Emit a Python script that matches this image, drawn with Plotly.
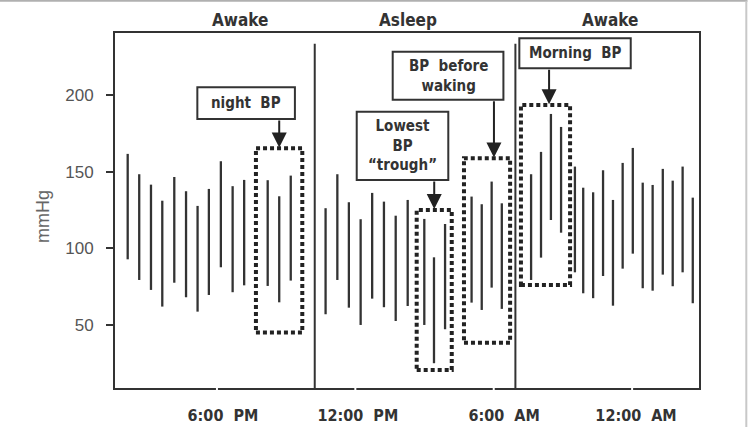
import plotly.graph_objects as go

# Reading times (hours on a continuous clock axis, 30-minute readings)
times = [14.13, 14.63, 15.14, 15.63, 16.15, 16.66, 17.16, 17.65, 18.17, 18.68, 19.18,
         20.20, 20.70, 21.20,
         22.71, 23.22, 23.72, 24.23, 24.73, 25.24, 25.75, 26.27, 26.99, 27.41, 27.89,
         29.04, 29.48, 29.91, 30.35,
         31.62, 32.05, 32.48, 32.92, 33.52, 33.88, 34.31, 34.74, 35.17, 35.59, 36.03,
         36.46, 36.89, 37.33, 37.76, 38.19, 38.63]
systolic = [161.8, 148.5, 141.7, 131.2, 146.7, 137.4, 127.8, 138.9, 157.0, 140.7, 144.8,
            144.6, 134.1, 147.6,
            126.3, 148.5, 130.2, 119.1, 136.3, 130.6, 121.4, 131.7, 119.3, 94.2, 116.0,
            133.9, 128.9, 143.7, 129.5,
            148.5, 163.1, 187.9, 179.4, 153.5, 139.7, 136.7, 151.1, 131.7, 155.9, 165.7,
            143.0, 141.5, 152.0, 144.3, 153.5, 133.2]
diastolic = [92.9, 79.4, 72.9, 62.0, 77.6, 68.1, 58.7, 69.6, 87.7, 71.4, 75.9,
             75.5, 64.8, 79.0,
             57.0, 79.4, 61.3, 50.0, 67.2, 61.6, 52.6, 62.4, 50.0, 25.0, 47.2,
             64.6, 59.8, 74.4, 60.5,
             79.4, 94.0, 118.6, 110.3, 84.4, 70.7, 67.5, 82.0, 62.6, 86.8, 96.6,
             74.0, 72.4, 82.9, 75.3, 84.4, 64.2]

x_notches = [18, 24, 30, 36]
x_tick_pos = [18.26, 24.11, 30.45, 36.17]
x_tick_labels = ["6:00  PM", "12:00  PM", "6:00  AM", "12:00  AM"]
y_ticks = [50, 100, 150, 200]

phase_labels = ["Awake", "Asleep", "Awake"]
phase_x = [19.0, 26.28, 35.04]
dividers = [22.24, 30.94]

# Highlight windows: (x0, x1, y0, y1)
windows = [
    (19.69, 21.70, 45.0, 165.5),
    (26.66, 28.18, 20.6, 125.2),
    (28.71, 30.71, 38.4, 159.0),
    (31.18, 33.31, 76.1, 193.8),
]
# Callout boxes: text, (x0, x1, y0, y1), arrow x
callouts = [
    ("night  BP", (17.15, 21.38, 184.6, 205.4), 20.70),
    ("Lowest<br>BP<br>“trough”", (24.06, 28.03, 144.8, 189.4), 27.42),
    ("BP  before<br>waking", (25.62, 30.42, 197.1, 228.6), 30.01),
    ("Morning  BP", (31.11, 35.94, 217.8, 237.4), 32.40),
]

DARK = "#333333"
COND = "Liberation Sans Narrow, DejaVu Sans Condensed, Roboto Condensed, Arial Narrow, sans-serif"

bx, by = [], []
for t, s, d in zip(times, systolic, diastolic):
    bx += [t, t, None]
    by += [d, s, None]

fig = go.Figure()
fig.add_trace(go.Scatter(x=bx, y=by, mode="lines",
                         line=dict(color=DARK, width=2.3), hoverinfo="skip",
                         showlegend=False))

shapes = []
annotations = []
for xd in dividers:
    shapes.append(dict(type="line", xref="x", yref="y", x0=xd, x1=xd, y0=8.8, y1=233.7,
                       line=dict(color=DARK, width=2)))
for (x0, x1, y0, y1) in windows:
    shapes.append(dict(type="rect", xref="x", yref="y", x0=x0, x1=x1, y0=y0, y1=y1,
                       line=dict(color="#222222", width=4, dash="4px,3px")))
for text, (x0, x1, y0, y1), ax in callouts:
    shapes.append(dict(type="rect", xref="x", yref="y", x0=x0, x1=x1, y0=y0, y1=y1,
                       line=dict(color=DARK, width=2), fillcolor="white", layer="above"))
    annotations.append(dict(x=(x0 + x1) / 2, y=(y0 + y1) / 2, xref="x", yref="y",
                            text=text, showarrow=False,
                            xanchor="center", yanchor="middle",
                            font=dict(family=COND, size=15, color=DARK, weight="bold")))
for (text, (x0, x1, y0, y1), ax), win in zip(callouts, windows):
    annotations.append(dict(x=ax, y=win[3] + 0.5, xref="x", yref="y",
                            ax=ax, ay=y0, axref="x", ayref="y", text="",
                            showarrow=True, arrowhead=2, arrowsize=1.5,
                            arrowwidth=2, arrowcolor="#222222", standoff=0))
for lbl, px in zip(phase_labels, phase_x):
    annotations.append(dict(x=px, y=1.037, xref="x", yref="paper", text=lbl,
                            showarrow=False, xanchor="center", yanchor="middle",
                            font=dict(family=COND, size=17, color=DARK, weight="bold")))
annotations.append(dict(x=-0.123, y=0.4825, xref="paper", yref="paper", text="mmHg",
                        textangle=-90, showarrow=False,
                        xanchor="center", yanchor="middle",
                        font=dict(family="Liberation Sans, Arial, sans-serif", size=18,
                                  color="#666666")))

# small white notches on the bottom axis line
for xn in x_notches:
    shapes.append(dict(type="line", xref="x", yref="paper", x0=xn, x1=xn,
                       y0=-0.006, y1=0.006, line=dict(color="white", width=2),
                       layer="above"))

# outer light frame (top and right)
shapes.append(dict(type="line", xref="paper", yref="paper", x0=-0.2, x1=1.083,
                   y0=1.091, y1=1.091, line=dict(color="#b0b0b0", width=2)))
shapes.append(dict(type="line", xref="paper", yref="paper", x0=1.081, x1=1.081,
                   y0=-0.2, y1=1.091, line=dict(color="#c8c8c8", width=2)))

fig.update_layout(
    width=748, height=427,
    margin=dict(l=115, r=49, t=33, b=39),
    paper_bgcolor="white", plot_bgcolor="white",
    shapes=shapes, annotations=annotations,
    showlegend=False,
    xaxis=dict(range=[13.58, 38.90], showgrid=False, zeroline=False,
               showline=True, linecolor=DARK, linewidth=2, mirror=True,
               tickvals=x_tick_pos, ticktext=x_tick_labels, ticks="",
               ticklabelstandoff=12, automargin=False,
               tickfont=dict(family=COND, size=16, color=DARK, weight="bold")),
    yaxis=dict(range=[8.8, 240.8], showgrid=False, zeroline=False,
               showline=True, linecolor=DARK, linewidth=2, mirror=True,
               tickvals=y_ticks, ticks="outside", ticklen=7, tickwidth=2,
               tickcolor=DARK, ticklabelstandoff=9, automargin=False,
               tickfont=dict(family="Liberation Sans, Arial, sans-serif", size=17,
                             color="#555555")),
)

fig.write_html("out.html")
